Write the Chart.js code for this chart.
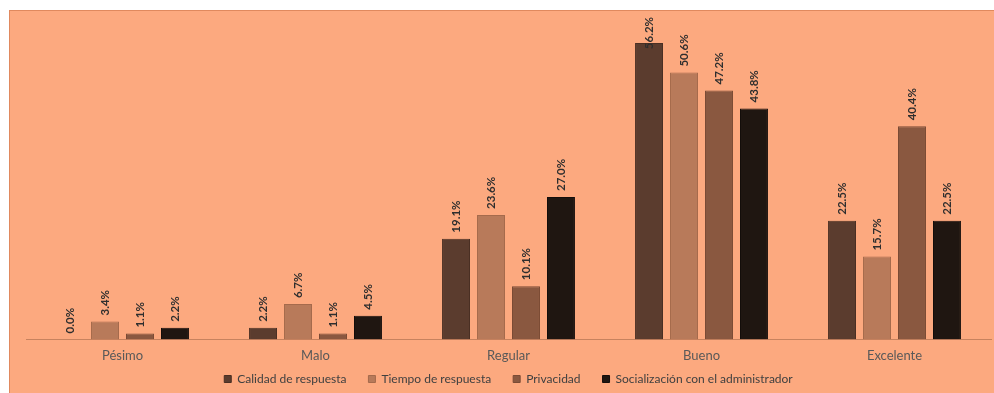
<!DOCTYPE html>
<html lang="es">
<head>
<meta charset="utf-8">
<script src="https://cdn.jsdelivr.net/npm/chart.js@4.4.1/dist/chart.umd.min.js"></script>
<style>
    html, body { margin: 0; padding: 0; background: #ffffff; overflow: hidden; }
    .chart-box {
        position: absolute;
        left: 9px;
        top: 10px;
        width: 985px;
        height: 407px;
        background: #fca97f;
        border-left: 1px solid #e0895e;
        border-top: 1px solid #e0895e;
        box-sizing: border-box;
    }
</style>
</head>
<body>
<div class="chart-box">
    <canvas id="ratingChart"></canvas>
</div>
<script>
const categories = ['Pésimo', 'Malo', 'Regular', 'Bueno', 'Excelente'];
const seriesNames = ['Calidad de respuesta', 'Tiempo de respuesta', 'Privacidad', 'Socialización con el administrador'];
const calidad = [0.0, 2.2, 19.1, 56.2, 22.5];
const tiempo = [3.4, 6.7, 23.6, 50.6, 15.7];
const privacidad = [1.1, 1.1, 10.1, 47.2, 40.4];
const socializacion = [2.2, 4.5, 27.0, 43.8, 22.5];
const seriesColors = ['#5b3c2e', '#b87a5a', '#8a5840', '#1f1611'];
const borderColors = ['#4a2f23', '#a56a4c', '#7a4b35', '#140e0b'];

// vertical percentage labels above each bar
const barLabels = {
    id: 'barLabels',
    afterDatasetsDraw(chart) {
        const ctx = chart.ctx;
        ctx.save();
        ctx.font = 'bold 11.5px Lato, sans-serif';
        ctx.fillStyle = '#2e2e2e';
        ctx.textAlign = 'left';
        ctx.textBaseline = 'middle';
        chart.data.datasets.forEach((ds, i) => {
            chart.getDatasetMeta(i).data.forEach((bar, j) => {
                const text = ds.data[j].toFixed(1) + '%';
                const w = ctx.measureText(text).width;
                let start = bar.y - 6;
                if (start - w < 6) start = 6 + w;
                ctx.save();
                ctx.translate(bar.x, start);
                ctx.rotate(-Math.PI / 2);
                ctx.fillText(text, 0, 0);
                ctx.restore();
            });
        });
        ctx.restore();
    }
};

// pull the legend up closer to the category labels
const legendNudge = {
    id: 'legendNudge',
    afterLayout(chart) {
        const lg = chart.legend;
        lg.top -= 22;
        lg.bottom -= 22;
    }
};

const ctx = document.getElementById('ratingChart').getContext('2d');
new Chart(ctx, {
    type: 'bar',
    data: {
        labels: categories,
        datasets: [calidad, tiempo, privacidad, socializacion].map((values, i) => ({
            label: seriesNames[i],
            data: values,
            backgroundColor: seriesColors[i],
            borderColor: borderColors[i],
            borderWidth: 1,
            categoryPercentage: 0.725,
            barPercentage: 0.8
        }))
    },
    options: {
        responsive: true,
        maintainAspectRatio: false,
        animation: false,
        layout: { padding: { left: 16, right: 3, top: 12, bottom: 0 } },
        scales: {
            x: {
                grid: { display: false, drawTicks: false },
                border: { display: true, color: '#c7825e', width: 1 },
                ticks: {
                    color: '#595959',
                    padding: 9,
                    font: { size: 13, family: 'Lato, sans-serif' }
                }
            },
            y: {
                display: false,
                min: 0,
                max: 60
            }
        },
        plugins: {
            legend: {
                position: 'bottom',
                labels: {
                    color: '#404040',
                    boxWidth: 7,
                    boxHeight: 7,
                    padding: 22,
                    font: { size: 12, family: 'Lato, sans-serif' }
                }
            },
            tooltip: { enabled: false }
        }
    },
    plugins: [barLabels, legendNudge]
});
</script>
</body>
</html>
